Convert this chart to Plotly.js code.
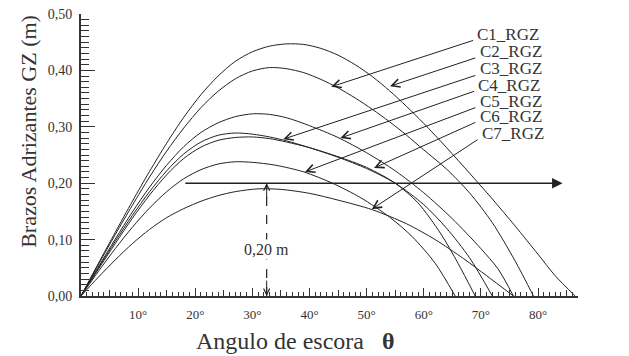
<!DOCTYPE html>
<html><head><meta charset="utf-8">
<script src="https://cdn.plot.ly/plotly-3.0.1.min.js"></script>
<style>html,body{margin:0;padding:0;background:#fff}#chart{width:629px;height:356px}</style>
</head><body><div id="chart"></div>
<script>
// Curve data: heel angle (deg) and GZ (m)
const c2x = [0,3,6,9,12,15,18,21,24,27,30,33,36,39,42,45,48,51,54,57,60,64,68,72,76,80,83,86.5];
const c2y = [0,0.057,0.113,0.168,0.221,0.271,0.317,0.357,0.39,0.416,0.433,0.443,0.447,0.446,0.439,0.427,0.41,0.389,0.364,0.336,0.306,0.263,0.218,0.172,0.124,0.074,0.036,0];
const c1x = [0,3,6,9,12,15,18,21,24,27,30,33,36,39,42,45,48,51,54,57,60,64,68,72,76,79.2];
const c1y = [0,0.055,0.109,0.161,0.211,0.257,0.298,0.334,0.363,0.385,0.399,0.405,0.403,0.396,0.384,0.369,0.351,0.331,0.309,0.285,0.259,0.225,0.183,0.13,0.062,0];
const c4x = [0,3,6,9,12,15,18,21,24,27,30,33,36,40,45,50,55,60,65,70,73,75.7];
const c4y = [0,0.051,0.101,0.149,0.193,0.232,0.265,0.29,0.307,0.318,0.323,0.322,0.316,0.302,0.281,0.254,0.222,0.183,0.137,0.084,0.048,0];
const c3x = [0,3,6,9,12,15,18,21,24,27,30,33,36,40,45,50,55,60,64,68,72];
const c3y = [0,0.049,0.097,0.143,0.185,0.222,0.252,0.273,0.285,0.289,0.287,0.282,0.275,0.263,0.246,0.226,0.2,0.162,0.12,0.068,0];
const c6x = [0,3,6,9,12,15,18,21,24,27,30,33,36,40,45,50,55,59,63,66,69];
const c6y = [0,0.047,0.093,0.138,0.179,0.215,0.244,0.264,0.276,0.281,0.282,0.279,0.273,0.263,0.247,0.228,0.2,0.165,0.11,0.058,0];
const c5x = [0,3,6,9,12,15,18,21,24,27,30,34,39,44,49,54,58,62,65.5];
const c5y = [0,0.043,0.084,0.122,0.156,0.185,0.208,0.224,0.234,0.238,0.237,0.232,0.22,0.2,0.174,0.14,0.105,0.058,0];
const c7x = [0,3,6,9,12,15,18,21,24,27,31,35,40,45,51,57,62,67,71,75.7];
const c7y = [0,0.033,0.064,0.093,0.118,0.139,0.155,0.168,0.178,0.185,0.19,0.189,0.182,0.17,0.153,0.128,0.1,0.066,0.036,0];

const labels = ["C1_RGZ","C2_RGZ","C3_RGZ","C4_RGZ","C5_RGZ","C6_RGZ","C7_RGZ"];
// arrow tails (label side) and heads (on curves), data coords
const tailX = [68.9,69.3,69.3,69.1,69.3,69.3,69.7];
const tailY = [0.454,0.423,0.392,0.364,0.335,0.309,0.279];
const headX = [43.8,54.1,35.4,45.4,39.2,51.3,50.9];
const headY = [0.371,0.372,0.278,0.280,0.220,0.227,0.154];
const labelY = [0.464,0.434,0.404,0.374,0.344,0.318,0.289];

const xTickVals = [10,20,30,40,50,60,70,80];
const xTickText = ["10°","20°","30°","40°","50°","60°","70°","80°"];

const serif = '"Liberation Serif", "Times New Roman", serif';
const ink = "#222";

const series = [[c1x,c1y,"C1_RGZ"],[c2x,c2y,"C2_RGZ"],[c3x,c3y,"C3_RGZ"],[c4x,c4y,"C4_RGZ"],[c5x,c5y,"C5_RGZ"],[c6x,c6y,"C6_RGZ"],[c7x,c7y,"C7_RGZ"]];
const traces = series.map(s => ({
  x: s[0], y: s[1], name: s[2], type: "scatter", mode: "lines",
  line: {color: ink, width: 1, shape: "spline", smoothing: 0.8},
  hoverinfo: "skip"
}));
// medium ticks every 5 deg on an overlay axis
traces.push({x:[0], y:[0], xaxis:"x2", mode:"markers", marker:{opacity:0}, showlegend:false, hoverinfo:"skip"});

const annotations = [];
for (let i = 0; i < labels.length; i++) {
  annotations.push({x: headX[i], y: headY[i], ax: tailX[i], ay: tailY[i], axref: "x", ayref: "y", xref: "x", yref: "y",
    showarrow: true, arrowhead: 5, arrowsize: 1.6, arrowwidth: 1, arrowcolor: ink, text: ""});
  annotations.push({x: tailX[i] + 0.3, y: labelY[i], xref: "x", yref: "y", text: labels[i], showarrow: false,
    xanchor: "left", yanchor: "middle", borderpad: 0, font: {family: serif, size: 17, color: "#333"}});
}
// horizontal arrow at 0.20
annotations.push({x: 84.3, y: 0.2, ax: 18, ay: 0.2, axref: "x", ayref: "y", xref: "x", yref: "y",
  showarrow: true, arrowhead: 2, arrowsize: 1.4, arrowwidth: 1.5, arrowcolor: ink, text: ""});
// dashed dimension arrow heads
annotations.push({x: 32.5, y: 0.2, ax: 32.5, ay: 0.17, axref: "x", ayref: "y", xref: "x", yref: "y",
  showarrow: true, arrowhead: 5, arrowsize: 1.2, arrowwidth: 1, arrowcolor: ink, text: ""});
annotations.push({x: 32.5, y: 0.0, ax: 32.5, ay: 0.03, axref: "x", ayref: "y", xref: "x", yref: "y",
  showarrow: true, arrowhead: 5, arrowsize: 1.2, arrowwidth: 1, arrowcolor: ink, text: ""});
annotations.push({x: 32.5, y: 0.083, xref: "x", yref: "y", text: "0,20 m", showarrow: false, bgcolor: "#fff",
  xanchor: "center", yanchor: "middle", font: {family: serif, size: 16, color: "#333"}});
// axis titles
annotations.push({x: -0.107, y: 0.585, xref: "paper", yref: "paper", xanchor: "center", yanchor: "middle",
  text: "Brazos Adrizantes GZ (m)", textangle: -90,
  showarrow: false, font: {family: serif, size: 22, color: "#333"}});
annotations.push({x: 0.43, y: -0.158, xref: "paper", yref: "paper", xanchor: "center", yanchor: "middle",
  text: "Angulo de escora &nbsp; <b>θ</b>",
  showarrow: false, font: {family: serif, size: 24, color: "#333"}});

const layout = {
  width: 629, height: 356,
  margin: {l: 81, r: 51, t: 14, b: 60},
  paper_bgcolor: "#fff", plot_bgcolor: "#fff",
  showlegend: false,
  separators: ",.",
  xaxis: {range: [0, 87], showgrid: false, zeroline: false, showline: true, linecolor: "#333", linewidth: 2,
    tickmode: "array", tickvals: xTickVals, ticktext: xTickText, ticks: "inside", ticklen: 8, tickwidth: 1, tickcolor: "#333",
    minor: {dtick: 1, ticks: "inside", ticklen: 4, tickcolor: "#333", tickwidth: 1, showgrid: false},
    tickfont: {family: serif, size: 13, color: "#333"}, ticklabelstandoff: 5},
  xaxis2: {range: [0, 87], overlaying: "x", anchor: "y", side: "bottom", showgrid: false, zeroline: false, showline: false,
    tickmode: "linear", tick0: 5, dtick: 10, ticks: "inside", ticklen: 6, tickcolor: "#333", showticklabels: false},
  yaxis: {range: [0, 0.5], showgrid: false, zeroline: false, showline: true, linecolor: "#333", linewidth: 2,
    dtick: 0.1, tickformat: ".2f", ticks: "inside", ticklen: 14, tickwidth: 1.2, tickcolor: "#333",
    minor: {dtick: 0.01, ticks: "inside", ticklen: 8, tickcolor: "#333", tickwidth: 1, showgrid: false},
    tickfont: {family: serif, size: 14, color: "#333"}, ticklabelstandoff: 4},
  shapes: [{type: "line", xref: "x", yref: "y", x0: 32.5, x1: 32.5, y0: 0.0, y1: 0.2, line: {color: ink, width: 1.2, dash: "dash"}}],
  annotations: annotations
};
Plotly.newPlot("chart", traces, layout, {displayModeBar: false, staticPlot: true});
</script></body></html>
